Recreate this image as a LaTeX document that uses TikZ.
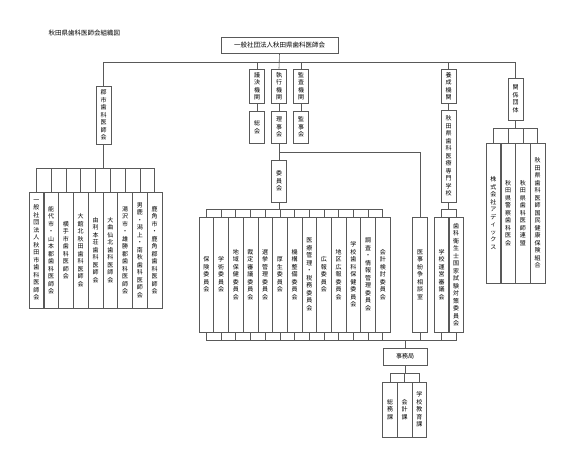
\documentclass[tikz,border=0pt]{standalone}
\usepackage{fontspec}
\setmainfont{Noto Sans CJK JP}
\usetikzlibrary{positioning}

\tikzset{
    box/.style={draw=black!65, line width=0.6pt, inner sep=0pt, align=center},
    vbox/.style={box, minimum width=14.7pt, font=\fontsize{6}{7.5}\selectfont},
    link/.style={draw=black!65, line width=0.6pt},
}
% stack the characters of a word one below the other
\newcommand{\vt}[1]{\vtfirst#1\relax}
\def\vtfirst#1{#1\vtrest}
\def\vtrest#1{\ifx\relax#1\else\\#1\expandafter\vtrest\fi}
\newcommand{\vtx}[1]{\expandafter\vt\expandafter{#1}}

\begin{document}
\begin{tikzpicture}[x=1pt, y=-1pt]

    \fill[white] (0,0) rectangle (576,467);
    \useasboundingbox (0,0) rectangle (576,467);

    % title and head office
    \node[anchor=west, font=\fontsize{6.5}{8}\selectfont] (title) at (45,33) {秋田県歯科医師会組織図};
    \node[box, minimum width=117pt, minimum height=16pt, font=\fontsize{6.5}{8}\selectfont] (top) at (279.5,45) {一般社団法人秋田県歯科医師会};

    % bus heights
    \coordinate (mainbus) at (0,62);
    \coordinate (kbus) at (0,128);
    \coordinate (rbus) at (0,152);
    \coordinate (gbus) at (0,168);
    \coordinate (cbus) at (0,209);
    \coordinate (lowbus) at (0,340);
    \coordinate (jbus) at (0,373);

    % organs
    \foreach \t/\x/\n in {議決機関/257/giketsu, 執行機関/279/shikko, 監査機関/301/kansa, 養成機関/448.5/yosei}
        \node[vbox, minimum height=34pt] (\n) at (\x,86) {\vtx{\t}};
    \foreach \t/\x/\n in {総会/257/sokai, 理事会/279/rijikai, 監事会/301/kanjikai}
        \node[vbox, minimum height=32pt] (\n) at (\x,127) {\vtx{\t}};
    \node[vbox, minimum height=92pt] (senmon) at (448.5,156) {\vt{秋田県歯科医療専門学校}};
    \node[vbox, minimum height=58pt] (gunshi) at (103.5,115) {\vt{郡市歯科医師会}};
    \node[vbox, minimum height=42pt] (kankei) at (515.5,99) {\vt{関係団体}};
    \node[vbox, minimum height=42pt] (iinkai) at (279,181) {\vt{委員会}};

    % local associations
    \foreach \t [count=\i] in {一般社団法人秋田市歯科医師会, 能代市・山本郡歯科医師会, 横手市歯科医師会,
        大館北秋田歯科医師会, 由利本荘歯科医師会, 大曲仙北歯科医師会, 湯沢市・雄勝郡歯科医師会,
        男鹿・潟上・南秋歯科医師会, 鹿角市・鹿角郡歯科医師会}
        \node[vbox, minimum height=116pt] (g\i) at ({36.4+14.78*(\i-1)},250) {\vtx{\t}};

    % committees
    \foreach \t [count=\i] in {保険委員会, 学術委員会, 地域保健委員会, 裁定審議委員会, 選挙管理委員会,
        厚生委員会, 機構整備委員会, 医療管理・税務委員会, 広報委員会, 地区広報委員会,
        学校歯科保健委員会, 調査・情報管理委員会, 会計検討委員会}
        \node[vbox, minimum height=115pt] (c\i) at ({206.35+14.7*(\i-1)},274.5) {\vtx{\t}};
    \node[vbox, minimum height=115pt] (soudan) at (420,274.5) {\vt{医事紛争相談室}};
    \node[vbox, minimum height=115pt] (gakko) at (441.5,274.5) {\vt{学校運営審議会}};
    \node[vbox, minimum height=115pt] (shiken) at (456,274.5) {\vt{歯科衛生士国家試験対策委員会}};

    % related bodies
    \foreach \t [count=\i] in {株式会社アディックス, 秋田県警察歯科医会, 秋田県歯科医師連盟, 秋田県歯科医師国民健康保険組合}
        \node[vbox, minimum height=140pt] (k\i) at ({493.4+14.75*(\i-1)},213) {\vtx{\t}};

    % secretariat
    \node[box, minimum width=44pt, minimum height=17pt, font=\fontsize{6}{7.5}\selectfont] (jimu) at (405,356.5) {事務局};
    \foreach \t [count=\i] in {総務課, 会計課, 学校教育課}
        \node[vbox, minimum height=55pt] (j\i) at ({390+14.7*(\i-1)},409.5) {\vtx{\t}};

    % main bus
    \draw[link] (top.south) -- (shikko.north);
    \draw[link] (gunshi.north) -- (gunshi.north |- mainbus) -- (kankei.north |- mainbus) -- (kankei.north);
    \foreach \n in {giketsu, kansa, yosei} \draw[link] (\n.north) -- (\n.north |- mainbus);
    \foreach \a/\b in {giketsu/sokai, shikko/rijikai, kansa/kanjikai, yosei/senmon, rijikai/iinkai}
        \draw[link] (\a.south) -- (\b.north);
    \draw[link] (rijikai.south |- rbus) -| (soudan.north);

    % local associations
    \draw[link] (gunshi.south) -- (gunshi.south |- gbus);
    \draw[link] (g1.north) |- (g9.north |- gbus) -- (g9.north);
    \foreach \i in {2,...,8} \draw[link] (g\i.north) -- (g\i.north |- gbus);

    % committees
    \draw[link] (iinkai.south) -- (iinkai.south |- cbus);
    \draw[link] (c1.north) |- (c13.north |- cbus) -- (c13.north);
    \foreach \i in {2,...,12} \draw[link] (c\i.north) -- (c\i.north |- cbus);
    \draw[link] (senmon.south) -- (senmon.south |- cbus);
    \draw[link] (gakko.north) |- (shiken.north |- cbus) -- (shiken.north);

    % to the secretariat
    \draw[link] (c1.south) |- (shiken.south |- lowbus) -- (shiken.south);
    \foreach \i in {2,...,13} \draw[link] (c\i.south) -- (c\i.south |- lowbus);
    \foreach \n in {soudan, gakko} \draw[link] (\n.south) -- (\n.south |- lowbus);
    \draw[link] (jimu.north) -- (jimu.north |- lowbus);
    \draw[link] (jimu.south) -- (jimu.south |- jbus);
    \draw[link] (j1.north) |- (j3.north |- jbus) -- (j3.north);
    \draw[link] (j2.north) -- (j2.north |- jbus);

    % related bodies
    \draw[link] (kankei.south) -- (kankei.south |- kbus);
    \draw[link] (k1.north) |- (k4.north |- kbus) -- (k4.north);
    \foreach \i in {2,3} \draw[link] (k\i.north) -- (k\i.north |- kbus);

\end{tikzpicture}
\end{document}
